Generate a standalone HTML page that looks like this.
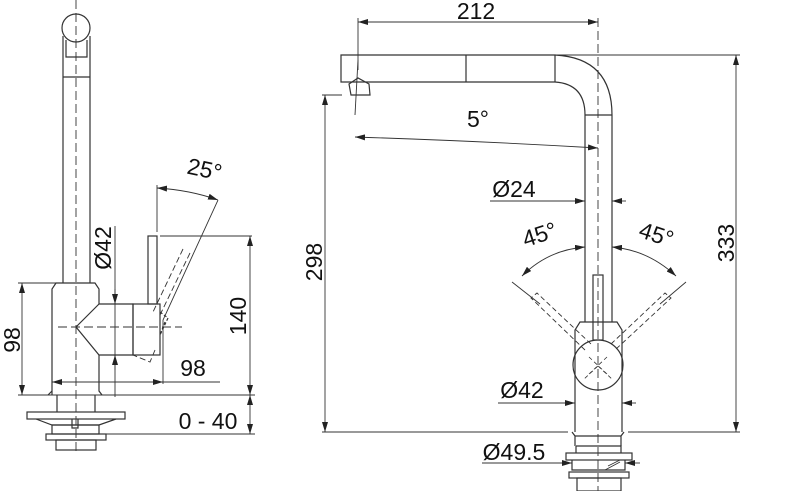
<!DOCTYPE html>
<html><head><meta charset="utf-8"><style>
html,body{margin:0;padding:0;background:#fff;}
svg{display:block}
text{font-family:"Liberation Sans",Arial,sans-serif;font-size:23px;fill:#111}
</style></head><body>
<svg width="802" height="491" viewBox="0 0 802 491" xmlns="http://www.w3.org/2000/svg">
<defs>
<marker id="a" viewBox="0 0 10 6" refX="10" refY="3" markerWidth="10" markerHeight="6" orient="auto-start-reverse" markerUnits="userSpaceOnUse"><path d="M0,0L10,3L0,6z" fill="#222"/></marker>
</defs>
<g stroke="#333" stroke-width="1.2" fill="none">
<!-- LEFT VIEW -->
<line x1="76" y1="0" x2="76" y2="455" stroke-dasharray="9,4" stroke-width="0.9"/>
<circle cx="76" cy="28" r="14"/>
<path d="M66,40 V57 H87 V40"/>
<line x1="63" y1="36" x2="63" y2="283"/><line x1="90" y1="36" x2="90" y2="283"/>
<line x1="63" y1="77" x2="90" y2="77"/>
<path d="M52,395 V289 L56,283 H95 L99,289 V304"/>
<path d="M99,355 V391 L102,395"/><line x1="48" y1="395" x2="52" y2="391"/>
<path d="M99,304 H133 V355 H99 L76,327 L99,304"/>
<rect x="133" y="304" width="27" height="51"/>
<rect x="148" y="236" width="9" height="68"/>
<path d="M160,312 L168,318 L160,335 L165,322" stroke-dasharray="3,2"/>
<path d="M190,253 L160,315 M183,249 L153,312 M155,350 L150,362 L133,355" stroke-dasharray="6,3" stroke-width="0.9"/>
<line x1="58" y1="327" x2="182" y2="327" stroke-dasharray="9,4" stroke-width="0.9"/>
<path d="M57,395 V412 M95,395 V412"/>
<rect x="27" y="412" width="98" height="7"/>
<path d="M36,419 L52,425 H99 L116,419"/>
<rect x="52" y="425" width="47" height="9"/>
<rect x="46" y="434" width="60" height="6"/>
<rect x="56" y="440" width="40" height="10"/>
<path d="M72,419 V428 H78 V419"/>
<line x1="18" y1="283" x2="60" y2="283" stroke-width="0.9"/>
<line x1="18" y1="395" x2="255" y2="395" stroke-width="0.9"/>
<line x1="22" y1="283" x2="22" y2="395" marker-start="url(#a)" marker-end="url(#a)" stroke-width="0.9"/>
<line x1="115" y1="226" x2="115" y2="397" stroke-width="0.9"/>
<line x1="115" y1="289" x2="115" y2="304" marker-end="url(#a)" stroke-width="0.9"/>
<line x1="115" y1="370" x2="115" y2="355" marker-end="url(#a)" stroke-width="0.9"/>
<line x1="160" y1="236" x2="252" y2="236" stroke-width="0.9"/>
<line x1="250" y1="236" x2="250" y2="395" marker-start="url(#a)" marker-end="url(#a)" stroke-width="0.9"/>
<line x1="250" y1="395" x2="250" y2="434" marker-start="url(#a)" marker-end="url(#a)" stroke-width="0.9"/>
<line x1="105" y1="434" x2="255" y2="434" stroke-width="0.9"/>
<line x1="52" y1="382" x2="220" y2="382" stroke-width="0.9"/>
<line x1="52" y1="382" x2="62" y2="382" marker-start="url(#a)" stroke-width="0.9"/>
<line x1="150" y1="382" x2="163" y2="382" marker-end="url(#a)" stroke-width="0.9"/>
<line x1="163" y1="320" x2="163" y2="384" stroke-width="0.9"/>
<line x1="157" y1="185" x2="157" y2="232" stroke-width="0.9"/>
<line x1="218" y1="200" x2="163" y2="320" stroke-width="0.9"/>
<path d="M157,188 Q190,190 218,200" marker-start="url(#a)" marker-end="url(#a)" stroke-width="0.9"/>
<!-- RIGHT VIEW -->
<line x1="598" y1="18" x2="598" y2="491" stroke-dasharray="9,4" stroke-width="0.9"/>
<path d="M555,55 H341 V82 H555"/>
<line x1="466" y1="55" x2="466" y2="82"/>
<line x1="555" y1="55" x2="555" y2="82"/>
<path d="M555,55 Q612,58 612,115 V322"/>
<path d="M555,82 Q585,84 585,115 V322"/>
<line x1="585" y1="115" x2="612" y2="115"/>
<path d="M349,84 L358,78 L369,84 L370,95 H351 Z"/>
<line x1="358" y1="60" x2="355" y2="115" stroke-width="0.9"/>
<path d="M575,432 V330 L580,322 H617 L622,330 V432"/>
<circle cx="598" cy="365" r="25"/>
<rect x="593" y="275" width="10" height="65"/>
<path d="M585,350 L531,298 L537,293 L591,344 M611,344 L665,293 L671,298 L615,350" stroke-dasharray="5,3" stroke-width="0.9"/>
<path d="M589,357 L607,374 M607,357 L589,374 M598,366 L583,380 M598,366 L613,380" stroke-dasharray="4,3" stroke-width="0.8"/>
<path d="M572,432 L575,436 V446 M624,432 L621,436 V446"/>
<path d="M575,436 H621"/>
<rect x="566" y="453" width="66" height="7"/>
<path d="M572,460 V470 H625 V460"/>
<rect x="569" y="472" width="60" height="6"/>
<rect x="577" y="478" width="44" height="13"/>
<path d="M576,446 H621 V453 M576,446 V453"/>
<path d="M608,466 L620,460 M605,470 L620,462" stroke-width="0.9"/>
<line x1="358" y1="18" x2="358" y2="70" stroke-width="0.9"/>
<line x1="358" y1="22" x2="598" y2="22" marker-start="url(#a)" marker-end="url(#a)" stroke-width="0.9"/>
<line x1="555" y1="55" x2="740" y2="55" stroke-width="0.9"/>
<line x1="736" y1="55" x2="736" y2="432" marker-start="url(#a)" marker-end="url(#a)" stroke-width="0.9"/>
<line x1="322" y1="95" x2="342" y2="95" stroke-width="0.9"/>
<line x1="325" y1="95" x2="325" y2="432" marker-start="url(#a)" marker-end="url(#a)" stroke-width="0.9"/>
<line x1="322" y1="432" x2="568" y2="432" stroke-width="0.9"/>
<line x1="628" y1="432" x2="740" y2="432" stroke-width="0.9"/>
<path d="M355,137 Q480,141 598,148" marker-start="url(#a)" marker-end="url(#a)" stroke-width="0.9"/>
<line x1="490" y1="201" x2="585" y2="201" marker-end="url(#a)" stroke-width="0.9"/>
<line x1="612" y1="201" x2="626" y2="201" marker-start="url(#a)" stroke-width="0.9"/>
<path d="M585,247 Q548,250 522,276" marker-start="url(#a)" marker-end="url(#a)" stroke-width="0.9"/>
<path d="M612,247 Q648,250 676,276" marker-start="url(#a)" marker-end="url(#a)" stroke-width="0.9"/>
<line x1="512" y1="282" x2="540" y2="304" stroke-width="0.9"/>
<line x1="686" y1="282" x2="660" y2="304" stroke-width="0.9"/>
<line x1="498" y1="403" x2="575" y2="403" marker-end="url(#a)" stroke-width="0.9"/>
<line x1="622" y1="403" x2="636" y2="403" marker-start="url(#a)" stroke-width="0.9"/>
<line x1="482" y1="463" x2="572" y2="463" marker-end="url(#a)" stroke-width="0.9"/>
<line x1="625" y1="463" x2="640" y2="463" marker-start="url(#a)" stroke-width="0.9"/>
</g>
<text x="476" y="19" text-anchor="middle">212</text>
<text x="478" y="127" text-anchor="middle">5°</text>
<text x="514" y="197" text-anchor="middle">Ø24</text>
<text x="542" y="242" text-anchor="middle" transform="rotate(-18 542 242)">45°</text>
<text x="654" y="242" text-anchor="middle" transform="rotate(18 654 242)">45°</text>
<text x="522" y="398" text-anchor="middle">Ø42</text>
<text x="514" y="460" text-anchor="middle">Ø49.5</text>
<text x="0" y="0" text-anchor="middle" transform="translate(322 262) rotate(-90)">298</text>
<text x="0" y="0" text-anchor="middle" transform="translate(734 243) rotate(-90)">333</text>
<text x="0" y="0" text-anchor="middle" transform="translate(20 340) rotate(-90)">98</text>
<text x="0" y="0" text-anchor="middle" transform="translate(111 248) rotate(-90)">Ø42</text>
<text x="0" y="0" text-anchor="middle" transform="translate(246 316) rotate(-90)">140</text>
<text x="203" y="177" text-anchor="middle" transform="rotate(12 203 177)">25°</text>
<text x="193" y="376" text-anchor="middle">98</text>
<text x="208" y="429" text-anchor="middle">0 - 40</text>
</svg>
</body></html>
